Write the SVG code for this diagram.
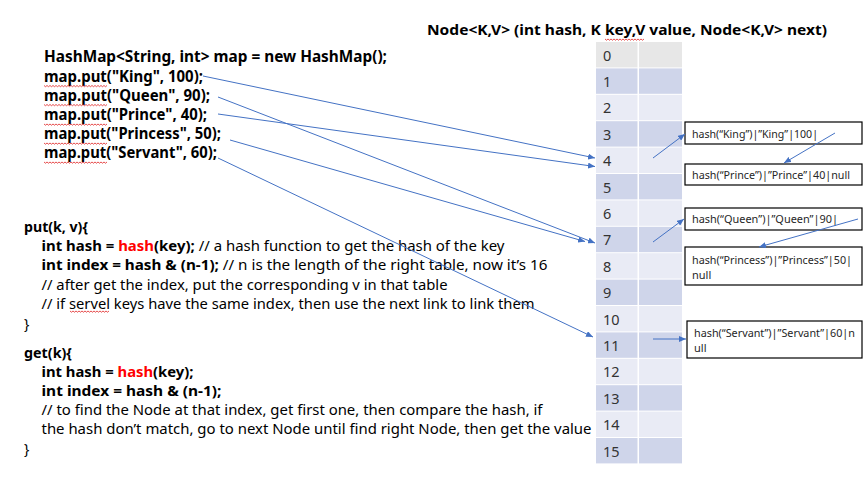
<svg xmlns="http://www.w3.org/2000/svg" xmlns:xlink="http://www.w3.org/1999/xlink" width="863" height="484" viewBox="0 0 863 484">
<style>
text{font-family:"Noto Sans","Open Sans","DejaVu Sans",sans-serif;fill:#000;}
.b{font-weight:bold;}
.top{font-size:15.5px;font-weight:bold;}
.title{font-size:14.5px;font-weight:bold;}
.code{font-size:14px;}
.red{fill:#FF0000;}
.num{font-size:14.5px;fill:#333;}
.box rect{fill:#fff;stroke:#000;stroke-width:1.2;}
.box text{font-size:11px;fill:#262626;}
.c0{fill:#E7E7E7;}
.c1{fill:#CFD5EA;}
.c2{fill:#E9EBF5;}
.wv{fill:none;stroke:#E02020;stroke-width:0.8;}
#connectors line{stroke:#4472C4;stroke-width:1;marker-end:url(#ah);}
</style>
<defs>
<marker id="ah" markerWidth="8" markerHeight="6" refX="7" refY="3" orient="auto" markerUnits="userSpaceOnUse"><path d="M0,0 L7,3 L0,6 z" fill="#4472C4"/></marker>
<path id="wv63" class="wv" d="M0,0 l1.5,1.2 l1.5,-1.2 l1.5,1.2 l1.5,-1.2 l1.5,1.2 l1.5,-1.2 l1.5,1.2 l1.5,-1.2 l1.5,1.2 l1.5,-1.2 l1.5,1.2 l1.5,-1.2 l1.5,1.2 l1.5,-1.2 l1.5,1.2 l1.5,-1.2 l1.5,1.2 l1.5,-1.2 l1.5,1.2 l1.5,-1.2 l1.5,1.2 l1.5,-1.2 l1.5,1.2 l1.5,-1.2 l1.5,1.2 l1.5,-1.2 l1.5,1.2 l1.5,-1.2 l1.5,1.2 l1.5,-1.2 l1.5,1.2 l1.5,-1.2 l1.5,1.2 l1.5,-1.2 l1.5,1.2 l1.5,-1.2 l1.5,1.2 l1.5,-1.2 l1.5,1.2 l1.5,-1.2 l1.5,1.2 l1.5,-1.2"/>
<path id="wv40" class="wv" d="M0,0 l1.5,1.2 l1.5,-1.2 l1.5,1.2 l1.5,-1.2 l1.5,1.2 l1.5,-1.2 l1.5,1.2 l1.5,-1.2 l1.5,1.2 l1.5,-1.2 l1.5,1.2 l1.5,-1.2 l1.5,1.2 l1.5,-1.2 l1.5,1.2 l1.5,-1.2 l1.5,1.2 l1.5,-1.2 l1.5,1.2 l1.5,-1.2 l1.5,1.2 l1.5,-1.2 l1.5,1.2 l1.5,-1.2 l1.5,1.2 l1.5,-1.2"/>
</defs>
<rect width="863" height="484" fill="#fff"/>

<g id="hashmap-code">
<text class="top" x="44" y="62" textLength="343" lengthAdjust="spacingAndGlyphs">HashMap&lt;String, int&gt; map = new HashMap();</text>
<text class="top" x="44" y="81.5" textLength="159" lengthAdjust="spacingAndGlyphs">map.put("King", 100);</text>
<text class="top" x="44" y="100.5" textLength="166" lengthAdjust="spacingAndGlyphs">map.put("Queen", 90);</text>
<text class="top" x="44" y="120" textLength="163" lengthAdjust="spacingAndGlyphs">map.put("Prince", 40);</text>
<text class="top" x="44" y="139" textLength="177" lengthAdjust="spacingAndGlyphs">map.put("Princess", 50);</text>
<text class="top" x="44" y="158" textLength="173" lengthAdjust="spacingAndGlyphs">map.put("Servant", 60);</text>
<use xlink:href="#wv63" x="44" y="85.5"/>
<use xlink:href="#wv63" x="44" y="104.5"/>
<use xlink:href="#wv63" x="44" y="124"/>
<use xlink:href="#wv63" x="44" y="143"/>
<use xlink:href="#wv63" x="44" y="162"/>
</g>

<g id="title">
<text class="title" x="427" y="35" textLength="400" lengthAdjust="spacingAndGlyphs">Node&lt;K,V&gt; (int hash, K key,V value, Node&lt;K,V&gt; next)</text>
<use xlink:href="#wv40" x="605" y="39"/>
</g>

<g id="put-code" class="code">
<text class="code b" x="24" y="232" textLength="64" lengthAdjust="spacingAndGlyphs">put(k, v){</text>
<text class="code" x="41.5" y="251" textLength="463" lengthAdjust="spacingAndGlyphs"><tspan class="b">int hash = </tspan><tspan class="b red">hash</tspan><tspan class="b">(key);</tspan> // a hash function to get the hash of the key</text>
<text class="code" x="41.5" y="270" textLength="506" lengthAdjust="spacingAndGlyphs"><tspan class="b">int index = hash &amp; (n-1);</tspan> // n is the length of the right table, now it’s 16</text>
<text class="code" x="41.5" y="289.5" textLength="406" lengthAdjust="spacingAndGlyphs">// after get the index, put the corresponding v in that table</text>
<text class="code" x="41.5" y="309" textLength="493" lengthAdjust="spacingAndGlyphs">// if servel keys have the same index, then use the next link to link them</text>
<use xlink:href="#wv40" x="70" y="311"/>
<text class="code" x="24" y="328.5">}</text>
</g>

<g id="get-code">
<text class="code b" x="24" y="358" textLength="48" lengthAdjust="spacingAndGlyphs">get(k){</text>
<text class="code" x="41.5" y="376.5" textLength="152" lengthAdjust="spacingAndGlyphs"><tspan class="b">int hash = </tspan><tspan class="b red">hash</tspan><tspan class="b">(key);</tspan></text>
<text class="code b" x="41.5" y="395.5" textLength="180" lengthAdjust="spacingAndGlyphs">int index = hash &amp; (n-1);</text>
<text class="code" x="41.5" y="415" textLength="501" lengthAdjust="spacingAndGlyphs">// to find the Node at that index, get first one, then compare the hash, if</text>
<text class="code" x="41.5" y="434" textLength="550" lengthAdjust="spacingAndGlyphs">the hash don’t match, go to next Node until find right Node, then get the value</text>
<text class="code" x="24" y="453.5">}</text>
</g>

<g id="table">
<rect class="c0" x="596" y="42" width="41.5" height="25.4"/><rect class="c0" x="639" y="42" width="43" height="25.4"/><text class="num" x="603" y="60.5">0</text>
<rect class="c1" x="596" y="68.4" width="41.5" height="25.4"/><rect class="c1" x="639" y="68.4" width="43" height="25.4"/><text class="num" x="603" y="86.9">1</text>
<rect class="c2" x="596" y="94.8" width="41.5" height="25.4"/><rect class="c2" x="639" y="94.8" width="43" height="25.4"/><text class="num" x="603" y="113.3">2</text>
<rect class="c1" x="596" y="121.2" width="41.5" height="25.4"/><rect class="c1" x="639" y="121.2" width="43" height="25.4"/><text class="num" x="603" y="139.7">3</text>
<rect class="c2" x="596" y="147.6" width="41.5" height="25.4"/><rect class="c2" x="639" y="147.6" width="43" height="25.4"/><text class="num" x="603" y="166.1">4</text>
<rect class="c1" x="596" y="174" width="41.5" height="25.4"/><rect class="c1" x="639" y="174" width="43" height="25.4"/><text class="num" x="603" y="192.5">5</text>
<rect class="c2" x="596" y="200.4" width="41.5" height="25.4"/><rect class="c2" x="639" y="200.4" width="43" height="25.4"/><text class="num" x="603" y="218.9">6</text>
<rect class="c1" x="596" y="226.8" width="41.5" height="25.4"/><rect class="c1" x="639" y="226.8" width="43" height="25.4"/><text class="num" x="603" y="245.3">7</text>
<rect class="c2" x="596" y="253.2" width="41.5" height="25.4"/><rect class="c2" x="639" y="253.2" width="43" height="25.4"/><text class="num" x="603" y="271.7">8</text>
<rect class="c1" x="596" y="279.6" width="41.5" height="25.4"/><rect class="c1" x="639" y="279.6" width="43" height="25.4"/><text class="num" x="603" y="298.1">9</text>
<rect class="c2" x="596" y="306" width="41.5" height="25.4"/><rect class="c2" x="639" y="306" width="43" height="25.4"/><text class="num" x="603" y="324.5">10</text>
<rect class="c1" x="596" y="332.4" width="41.5" height="25.4"/><rect class="c1" x="639" y="332.4" width="43" height="25.4"/><text class="num" x="603" y="350.9">11</text>
<rect class="c2" x="596" y="358.8" width="41.5" height="25.4"/><rect class="c2" x="639" y="358.8" width="43" height="25.4"/><text class="num" x="603" y="377.3">12</text>
<rect class="c1" x="596" y="385.2" width="41.5" height="25.4"/><rect class="c1" x="639" y="385.2" width="43" height="25.4"/><text class="num" x="603" y="403.7">13</text>
<rect class="c2" x="596" y="411.6" width="41.5" height="25.4"/><rect class="c2" x="639" y="411.6" width="43" height="25.4"/><text class="num" x="603" y="430.1">14</text>
<rect class="c1" x="596" y="438" width="41.5" height="25.4"/><rect class="c1" x="639" y="438" width="43" height="25.4"/><text class="num" x="603" y="456.5">15</text>
</g>

<g id="node-king" class="box">
<rect x="685" y="122" width="177" height="22"/>
<text x="692" y="137.5" textLength="126" lengthAdjust="spacingAndGlyphs">hash(“King”)|”King”|100|</text>
</g>
<g id="node-prince" class="box">
<rect x="685" y="164" width="177" height="21"/>
<text x="692" y="178.5" textLength="158" lengthAdjust="spacingAndGlyphs">hash(“Prince”)|”Prince”|40|null</text>
</g>
<g id="node-queen" class="box">
<rect x="685" y="208" width="177" height="22"/>
<text x="692" y="222.5" textLength="146" lengthAdjust="spacingAndGlyphs">hash(“Queen”)|”Queen”|90|</text>
</g>
<g id="node-princess" class="box">
<rect x="685" y="247" width="177" height="38"/>
<text x="692" y="263.5" textLength="160" lengthAdjust="spacingAndGlyphs">hash(“Princess”)|”Princess”|50|</text>
<text x="692" y="278.5">null</text>
</g>
<g id="node-servant" class="box">
<rect x="687" y="321" width="175" height="37"/>
<text x="694" y="336.5" textLength="161" lengthAdjust="spacingAndGlyphs">hash(“Servant”)|”Servant”|60|n</text>
<text x="694" y="351.5">ull</text>
</g>

<g id="connectors">
<line x1="203" y1="76" x2="595" y2="158"/>
<line x1="218" y1="97" x2="595" y2="243"/>
<line x1="218" y1="114" x2="595" y2="166.5"/>
<line x1="230" y1="140" x2="585" y2="241.5"/>
<line x1="218" y1="158" x2="593" y2="337"/>
<line x1="653" y1="158" x2="685" y2="134"/>
<line x1="835" y1="133" x2="784" y2="163"/>
<line x1="653" y1="242" x2="684" y2="219"/>
<line x1="858" y1="219" x2="759" y2="247"/>
<line x1="653" y1="339" x2="686" y2="339"/>
</g>
</svg>
